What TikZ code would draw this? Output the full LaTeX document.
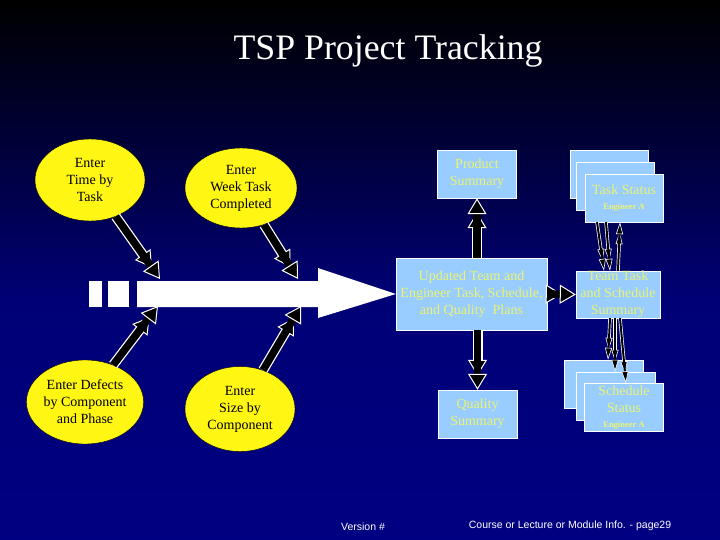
\documentclass[tikz,border=0pt]{standalone}
\usepackage{fontspec}
\setmainfont{Liberation Serif}
\setsansfont{Liberation Sans}
\usetikzlibrary{positioning,calc,shapes.geometric,arrows.meta}
\definecolor{bgblue}{RGB}{0,0,118}
\definecolor{bgdeep}{RGB}{0,0,130}
\definecolor{boxblue}{RGB}{153,204,255}
\definecolor{boxtext}{RGB}{235,245,110}
\definecolor{elyellow}{RGB}{255,246,20}
\tikzstyle{box}=[rectangle,draw=white,fill=boxblue,text=boxtext,align=center,inner sep=0pt,
  minimum width=79pt,minimum height=48pt,font=\fontsize{14}{17}\selectfont]
\tikzstyle{ell}=[ellipse,draw=black,fill=elyellow,text=black,align=center,inner sep=0pt,
  minimum width=110pt,minimum height=82pt,font=\fontsize{14}{17}\selectfont]
\tikzstyle{fat}=[draw=black,line width=7.5pt,
  -{Triangle[length=16pt,width=19pt,color=white,fill=black,line width=1pt]},
  preaction={draw=white,line width=10pt,shorten >=14pt}]
\tikzstyle{slim}=[draw=black,line width=2pt,
  -{Triangle[length=12pt,width=7pt,color=white,fill=black,line width=0.6pt]},
  preaction={draw=white,line width=3.4pt,shorten >=10pt}]
\newcommand{\engA}{\\[-2pt]{\fontsize{8.5}{10}\selectfont\bfseries Engineer A}}

\begin{document}
\begin{tikzpicture}[x=1pt,y=-1pt]
  \useasboundingbox (0,0) rectangle (720,540);
  \shade[top color=black,bottom color=bgblue] (0,0) rectangle (720,300);
  \shade[top color=bgblue,bottom color=bgdeep] (0,300) rectangle (720,540);

  \node [text=white,font=\fontsize{35.8}{40}\selectfont] at (388,51) (title) {TSP Project Tracking};

  % input ellipses
  \node [ell] at (90,180) (time) {Enter\\Time by\\Task};
  \node [ell,minimum width=112pt,minimum height=80pt] at (241,188) (week) {Enter\\Week Task\\Completed};
  \node [ell,minimum width=106pt,minimum height=84pt] at (85,402) (defects) {Enter Defects\\by Component\\and Phase};
  \node [ell,minimum height=85pt] at (240,409) (size) {Enter\\Size by\\Component};

  % summary boxes
  \node [box] at (477,174) (product) {Product\\Summary};
  \node [box,minimum width=151pt,minimum height=72pt] at (471.5,294) (plans) {Updated Team and\\Engineer Task, Schedule,\\and Quality\ \ Plans};
  \node [box,minimum width=84pt,minimum height=47pt] at (618,294.5) (teamsum) {Team Task\\and Schedule\\Summary};
  \node [box] at (477.5,414) (quality) {Quality\\Summary};

  % stacked status sheets
  \node [box,minimum width=78pt] at (609,174) (taskA) {};
  \node [box,minimum width=78pt] at (615.5,186) (taskB) {};
  \node [box,minimum width=78pt] at (624,198) (taskC) {Task Status\engA};
  \node [box] at (603.5,384) (schedA) {};
  \node [box] at (615.5,396) (schedB) {};
  \node [box] at (624,407.5) (schedC) {Schedule\\Status\engA};

  % big process arrow
  \fill [white] (89,281) rectangle (102,307);
  \fill [white] (108,281) rectangle (129,307);
  \fill [white] (137,281) -- (318,281) -- (318,268) -- (plans.west) -- (318,318) -- (318,307) -- (137,307) -- cycle;

  \coordinate (in1) at (160,279);
  \coordinate (in2) at (298,279);
  \coordinate (in3) at (158,306);
  \coordinate (in4) at (301,306);

  \draw [fat] (time) -- (in1);
  \draw [fat] (week) -- (in2);
  \draw [fat] (defects) -- (in3);
  \draw [fat] (size) -- (in4);

  \draw [fat] (plans.north -| product.south) -- (product.south);
  \draw [fat] (plans.south -| quality.north) -- (quality.north);
  \draw [fat] (plans.east) -- (teamsum.west);

  \draw [slim] ([xshift=-27pt]taskC.south) -- ([xshift=-14pt]teamsum.north);
  \draw [slim] ([xshift=-18pt]taskC.south) -- ([xshift=-8pt]teamsum.north);
  \draw [slim] ([xshift=0pt]teamsum.north) -- ([xshift=-4pt]taskC.south);

  \draw [slim] ([xshift=-8pt]teamsum.south) -- ([xshift=4.5pt]schedA.north);
  \draw [slim] ([xshift=-3pt]teamsum.south) -- ([xshift=-0.5pt]schedB.north);
  \draw [slim] ([xshift=2pt]teamsum.south) -- ([xshift=2pt]schedC.north);

  % footer
  \node [text=white,font=\sffamily\fontsize{10.5}{12}\selectfont] at (363,527) (version) {Version \#};
  \node [text=white,font=\sffamily\fontsize{10.5}{12}\selectfont] at (570,526) (course) {Course or Lecture or Module Info. - page29};
\end{tikzpicture}
\end{document}
